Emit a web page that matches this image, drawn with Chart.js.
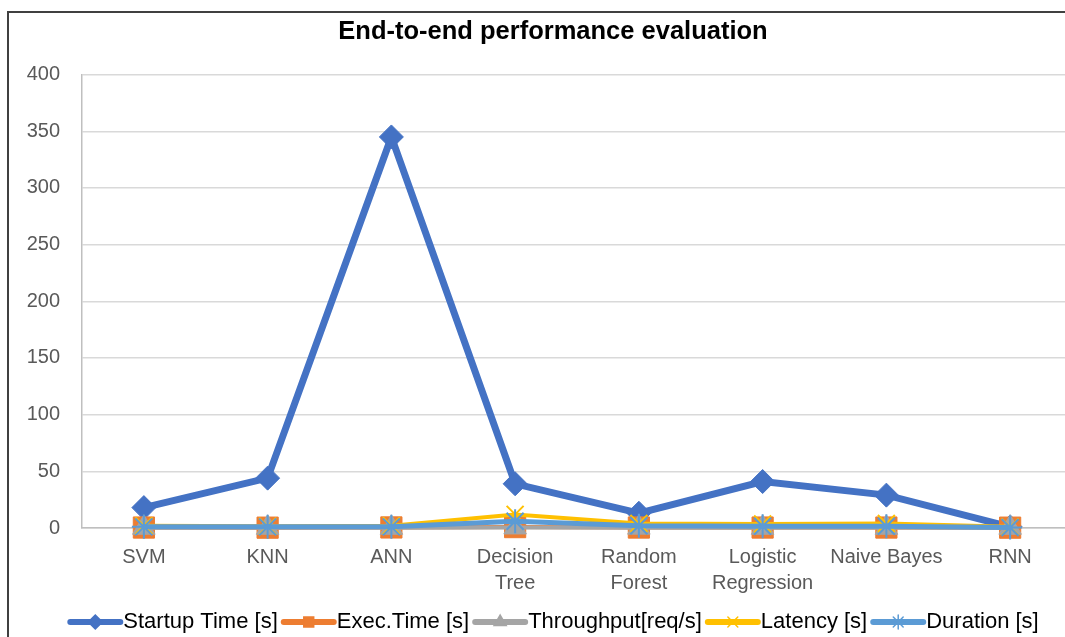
<!DOCTYPE html>
<html lang="en">
<head>
    <meta charset="UTF-8">
    <title>End-to-end performance evaluation</title>
    <script src="https://cdn.jsdelivr.net/npm/chart.js"></script>
    <style>
        body { margin: 0; background: #fff; overflow: hidden; }
        .frame {
            position: absolute; left: 7px; top: 11px;
            width: 1100px; height: 640px;
            border-left: 2px solid #404040; border-top: 2px solid #404040;
        }
        #perf-chart { display: block; }
    </style>
</head>
<body>
<div class="frame">
    <canvas id="perf-chart" width="1092" height="630"></canvas>
</div>

<script>
    // categories + series
    const models = ['SVM', 'KNN', 'ANN', ['Decision', 'Tree'], ['Random', 'Forest'], ['Logistic', 'Regression'], 'Naive Bayes', 'RNN'];
    const startupTime = [18, 44, 345, 39, 13, 41, 29, 1];
    const execTime = [0.4, 0.3, 0.5, 0.8, 0.4, 0.4, 0.4, 0.3];
    const throughput = [0.2, 0.2, 0.2, 0.5, 0.3, 0.2, 0.2, 0.2];
    const latency = [2, 1.5, 2, 12, 4, 3.5, 4, 1];
    const duration = [1, 1, 1, 6, 2, 1.5, 1.5, 0.5];
    const yTicks = [0, 50, 100, 150, 200, 250, 300, 350, 400];

    const FONT = '"Liberation Sans", Arial, sans-serif';

    function series(label, data, color, style, radius, width, order) {
        return {
            label: label,
            data: data,
            borderColor: color,
            backgroundColor: color,
            borderWidth: width,
            pointStyle: style,
            pointRadius: radius,
            pointBorderWidth: style === 'crossRot' || style === 'star' ? 2 : 1,
            pointBackgroundColor: color,
            pointBorderColor: color,
            tension: 0,
            clip: false,
            order: order   // excel draws later series on top
        };
    }

    // draws line + marker samples in the legend, like excel does
    const legendMarkers = {
        id: 'legendMarkers',
        afterDraw(chart) {
            const legend = chart.legend;
            if (!legend || !legend.legendHitBoxes) return;
            const ctx = chart.ctx;
            const opts = legend.options.labels;
            const span = opts.boxWidth + opts.font.size / 2;
            legend.legendItems.forEach((item, i) => {
                const box = legend.legendHitBoxes[i];
                const ds = chart.data.datasets[item.datasetIndex];
                const y = box.top + box.height / 2;
                ctx.save();
                ctx.strokeStyle = ds.borderColor;
                ctx.lineWidth = 6;
                ctx.lineCap = 'round';
                ctx.beginPath();
                ctx.moveTo(box.left + 3, y);
                ctx.lineTo(box.left + span - 3, y);
                ctx.stroke();
                ctx.fillStyle = ds.borderColor;
                ctx.strokeStyle = ds.borderColor;
                ctx.lineWidth = 1.5;
                Chart.helpers.drawPoint(ctx, { pointStyle: ds.pointStyle, radius: 7, rotation: 0, borderWidth: 1.5 }, box.left + span / 2, y);
                ctx.restore();
            });
        }
    };

    new Chart(document.getElementById('perf-chart'), {
        type: 'line',
        data: {
            labels: models,
            datasets: [
                series('Startup Time [s]', startupTime, '#4472C4', 'rectRot', 12, 7, 5),
                series('Exec.Time [s]', execTime, '#ED7D31', 'rect', 15, 4, 4),
                series('Throughput[req/s]', throughput, '#A5A5A5', 'triangle', 13, 4, 3),
                series('Latency [s]', latency, '#FFC000', 'crossRot', 12, 4, 2),
                series('Duration [s]', duration, '#5B9BD5', 'star', 12, 5, 1)
            ]
        },
        options: {
            responsive: false,
            animation: false,
            layout: { padding: { left: 13, right: 17, top: 0, bottom: 0 } },
            plugins: {
                title: {
                    display: true,
                    text: 'End-to-end performance evaluation',
                    color: '#000',
                    font: { family: FONT, size: 25.5, weight: 'bold' },
                    padding: { top: 4, bottom: 27 }
                },
                legend: {
                    position: 'bottom',
                    labels: {
                        color: '#000',
                        font: { family: FONT, size: 22 },
                        boxWidth: 45,
                        boxHeight: 6,
                        padding: 3,
                        sort: (a, b) => a.datasetIndex - b.datasetIndex,
                        generateLabels(chart) {
                            const items = Chart.defaults.plugins.legend.labels.generateLabels(chart);
                            items.forEach(it => {
                                it.fillStyle = 'rgba(0,0,0,0)';
                                it.strokeStyle = 'rgba(0,0,0,0)';
                                it.lineWidth = 0;
                            });
                            return items;
                        }
                    }
                },
                tooltip: { enabled: false }
            },
            scales: {
                x: {
                    offset: true,
                    grid: { display: false, drawTicks: false },
                    border: { display: true, color: '#BFBFBF', width: 1.5 },
                    ticks: {
                        color: '#595959',
                        font: { family: FONT, size: 20, lineHeight: 1.3 },
                        padding: 16,
                        maxRotation: 0,
                        autoSkip: false
                    },
                    afterFit: s => { s.height = 80; }
                },
                y: {
                    min: 0,
                    max: 400,
                    afterBuildTicks: s => { s.ticks = yTicks.map(v => ({ value: v })); },
                    grid: { color: '#D9D9D9', lineWidth: 1.5, drawTicks: false },
                    border: { display: true, color: '#BFBFBF', width: 1.5 },
                    ticks: {
                        color: '#595959',
                        font: { family: FONT, size: 20 },
                        padding: 22
                    },
                    afterFit: s => { s.width = 60; }
                },
                // empty right-hand strip, only there to keep the title centred like the original
                yRight: {
                    position: 'right',
                    min: 0,
                    max: 400,
                    grid: { display: false, drawTicks: false },
                    border: { display: false },
                    ticks: { display: false },
                    afterFit: s => { s.width = 12; }
                }
            }
        },
        plugins: [legendMarkers]
    });
</script>
</body>
</html>
